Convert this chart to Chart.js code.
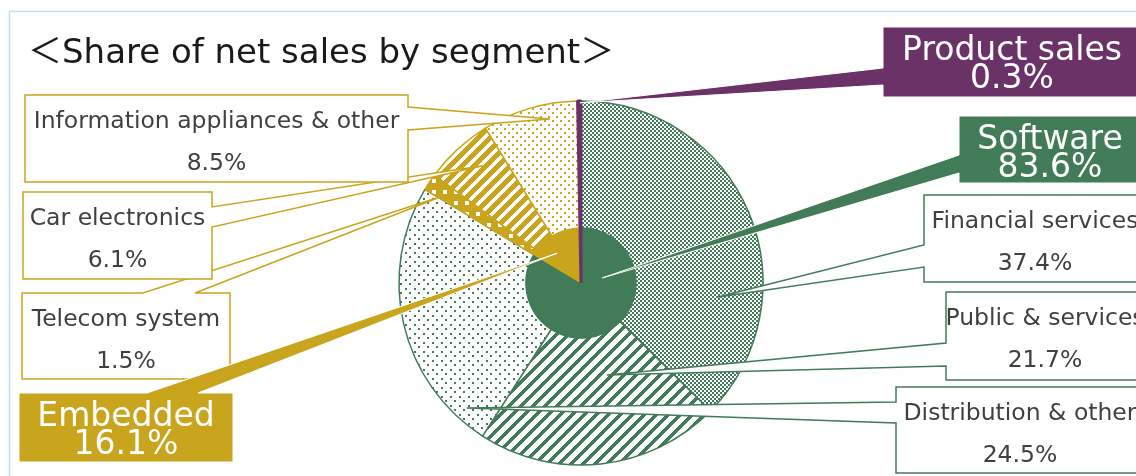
<!DOCTYPE html>
<html>
<head>
<meta charset="utf-8">
<script src="https://cdn.jsdelivr.net/npm/chart.js@4.4.1/dist/chart.umd.min.js"></script>
<style>
  html, body { margin: 0; padding: 0; background: #fff; }
  #wrap { width: 1136px; height: 476px; position: relative; }
</style>
</head>
<body>
<div id="wrap"><canvas id="segChart"></canvas></div>
<script>
'use strict';

// chart data
var segmentNames = ['Software', 'Embedded', 'Product sales'];
var segmentShares = [83.6, 16.1, 0.3];
var subNames = ['Financial services', 'Public & services', 'Distribution & other',
  'Telecom system', 'Car electronics', 'Information appliances & other', 'Product sales'];
var subShares = [37.4, 21.7, 24.5, 1.5, 6.1, 8.5, 0.3];
var chartTitle = '＜Share of net sales by segment＞';

var GREEN = '#417B58';
var GOLD = '#C9A51D';
var PURPLE = '#6B3268';

var ctx = document.getElementById('segChart').getContext('2d');

// small tiles for the hatch fills
function makePattern(size, bg, drawTile) {
  var c = document.createElement('canvas');
  c.width = size;
  c.height = size;
  var g = c.getContext('2d');
  g.fillStyle = bg;
  g.fillRect(0, 0, size, size);
  drawTile(g, size);
  return ctx.createPattern(c, 'repeat');
}
function stripes(color, size, band) {
  return makePattern(size, '#fff', function(g, n) {
    g.fillStyle = color;
    for (var y = 0; y < n; y++) {
      for (var x = 0; x < n; x++) {
        if ((x + y) % n < band) g.fillRect(x, y, 1, 1);
      }
    }
  });
}
function dots(color, size) {
  return makePattern(size, '#fff', function(g, n) {
    g.fillStyle = color;
    g.fillRect(0, 0, 2, 2);
    g.fillRect(Math.floor(n / 2), Math.floor(n / 2), 2, 2);
  });
}
var checker = makePattern(4, '#fff', function(g) {
  g.fillStyle = GREEN;
  g.fillRect(0, 0, 2, 2);
  g.fillRect(2, 2, 2, 2);
});
var squares = makePattern(11, GOLD, function(g) {
  g.fillStyle = '#fff';
  g.fillRect(3, 3, 4, 4);
});

var subFill = [checker, stripes(GREEN, 12, 5), dots(GREEN, 9), squares, stripes(GOLD, 12, 7), dots(GOLD, 8), PURPLE];
var subBorder = [GREEN, GREEN, GREEN, GOLD, GOLD, GOLD, PURPLE];
var segmentColors = [GREEN, GOLD, PURPLE];

// callout boxes: box = [x, y, w, h], side of the wedge, wedge base on that side, tip = [angle, radius part]
var callouts = [
  { ds: 0, i: 0, box: [924, 195, 222, 87], side: 'l', base: [245, 267], tip: [95.8, 0.757] },
  { ds: 0, i: 1, box: [946, 292, 198, 88], side: 'l', base: [343, 366], tip: [164.2, 0.525] },
  { ds: 0, i: 2, box: [896, 387, 248, 86], side: 'l', base: [402, 423], tip: [222.4, 0.93] },
  { ds: 0, i: 3, box: [22, 293, 208, 86], side: 't', base: [143, 195], tip: [302, 0.9] },
  { ds: 0, i: 4, box: [23, 192, 189, 87], side: 'r', base: [207, 227], tip: [320.1, 0.84] },
  { ds: 0, i: 5, box: [25, 95, 383, 87], side: 'r', base: [107, 130], tip: [349.3, 0.917] },
  { ds: 1, i: 1, box: [19, 393, 214, 69], side: 't', base: [147, 198], tip: [321.3, 0.21], filled: true },
  { ds: 1, i: 0, box: [959, 116, 182, 67], side: 'l', base: [155, 173], tip: [76.6, 0.12], filled: true },
  { ds: 1, i: 2, box: [883, 27, 258, 70], side: 'l', base: [68, 85], tip: [359.7, 0.99], filled: true }
];

function drawCallout(g, c, cx, cy, R) {
  var x = c.box[0], y = c.box[1], w = c.box[2], h = c.box[3];
  var a = c.tip[0] * Math.PI / 180;
  var tx = cx + R * c.tip[1] * Math.sin(a);
  var ty = cy - R * c.tip[1] * Math.cos(a);
  var color = c.ds === 0 ? subBorder[c.i] : segmentColors[c.i];
  var name = c.ds === 0 ? subNames[c.i] : segmentNames[c.i];
  var value = c.ds === 0 ? subShares[c.i] : segmentShares[c.i];

  g.save();
  g.beginPath();
  g.moveTo(x, y);
  if (c.side === 't') { g.lineTo(c.base[0], y); g.lineTo(tx, ty); g.lineTo(c.base[1], y); }
  g.lineTo(x + w, y);
  if (c.side === 'r') { g.lineTo(x + w, c.base[0]); g.lineTo(tx, ty); g.lineTo(x + w, c.base[1]); }
  g.lineTo(x + w, y + h);
  g.lineTo(x, y + h);
  if (c.side === 'l') { g.lineTo(x, c.base[1]); g.lineTo(tx, ty); g.lineTo(x, c.base[0]); }
  g.closePath();
  g.fillStyle = c.filled ? color : '#fff';
  g.fill();
  g.lineJoin = 'miter';
  g.miterLimit = 2;
  if (c.filled) {
    // thin white rim, visible where the wedge lies on the pie
    g.lineWidth = 1;
    g.strokeStyle = '#fff';
  } else {
    g.lineWidth = 1.5;
    g.strokeStyle = color;
  }
  g.stroke();

  g.textAlign = 'center';
  g.textBaseline = 'alphabetic';
  if (c.filled) {
    g.fillStyle = '#fff';
    g.font = '33px "DejaVu Sans"';
    g.fillText(name, x + w / 2, y + 32.5);
    g.fillText(value.toFixed(1) + '%', x + w / 2, y + 61);
  } else {
    g.fillStyle = '#404040';
    g.font = '23.5px "DejaVu Sans"';
    g.fillText(name, x + w / 2, y + 33);
    g.fillText(value.toFixed(1) + '%', x + w / 2, y + 74.5);
  }
  g.restore();
}

var calloutPlugin = {
  id: 'callouts',
  beforeDraw: function(chart) {
    var g = chart.ctx;
    g.save();
    g.strokeStyle = '#C3DBF0';
    g.lineWidth = 1.5;
    g.beginPath();
    g.moveTo(1136, 11.5);
    g.lineTo(9.5, 11.5);
    g.lineTo(9.5, 476);
    g.stroke();
    g.fillStyle = '#1a1a1a';
    g.font = '34px "DejaVu Sans", "Noto Sans CJK JP"';
    g.textAlign = 'left';
    g.textBaseline = 'alphabetic';
    g.fillText(chartTitle, 28, 63);
    g.restore();
  },
  afterDatasetsDraw: function(chart) {
    var arc = chart.getDatasetMeta(0).data[0];
    for (var k = 0; k < callouts.length; k++) {
      drawCallout(chart.ctx, callouts[k], arc.x, arc.y, arc.outerRadius);
    }
  }
};

var chart = new Chart(ctx, {
  type: 'doughnut',
  data: {
    labels: subNames,
    datasets: [{
      data: subShares,
      backgroundColor: subFill,
      borderColor: subBorder,
      borderWidth: [1.5, 1.5, 1.5, 1.5, 1.5, 1.5, 3],
      hoverBorderWidth: [1.5, 1.5, 1.5, 1.5, 1.5, 1.5, 3],
      weight: 127
    }, {
      data: segmentShares,
      backgroundColor: segmentColors,
      borderColor: segmentColors,
      borderWidth: [1, 1, 3],
      hoverBorderWidth: [1, 1, 3],
      weight: 55
    }]
  },
  options: {
    responsive: true,
    maintainAspectRatio: false,
    animation: false,
    events: [],
    cutout: 0,
    rotation: 0,
    layout: { padding: { left: 397.5, right: 371.5, top: 99.5, bottom: 9.5 } },
    plugins: {
      legend: { display: false },
      tooltip: { enabled: false }
    }
  },
  plugins: [calloutPlugin]
});
</script>
</body>
</html>
